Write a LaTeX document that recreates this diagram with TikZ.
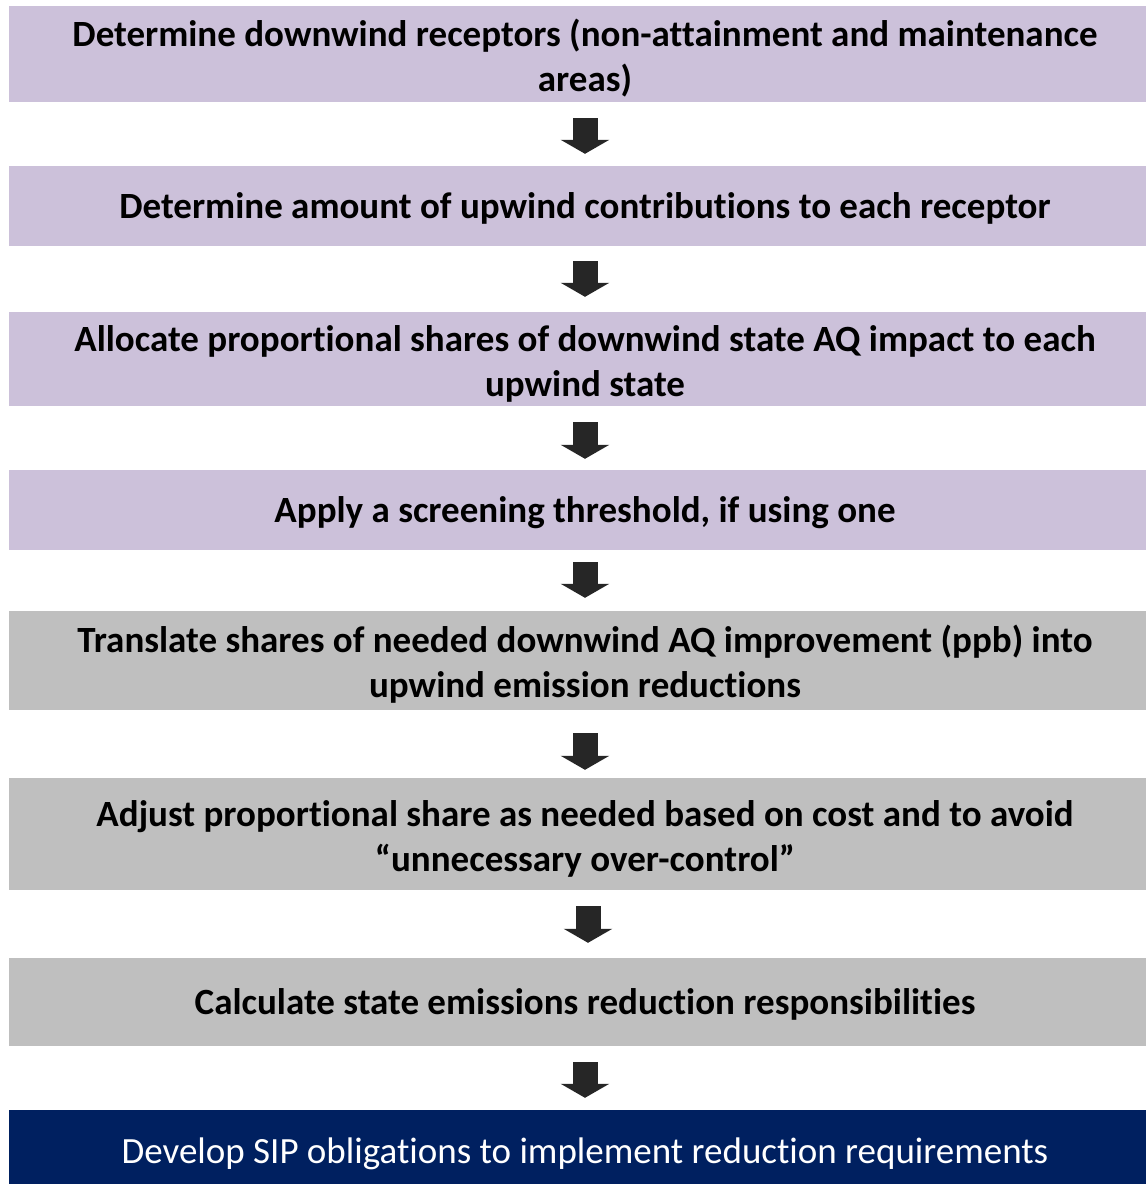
\documentclass[tikz,border=0pt]{standalone}
\usepackage{fontspec}
\setmainfont{Carlito}[RawFeature=-liga]
\usetikzlibrary{arrows.meta}
\definecolor{lav}{HTML}{CCC1DA}
\definecolor{gry}{HTML}{BFBFBF}
\definecolor{navyblue}{HTML}{002060}
\definecolor{arrowgray}{HTML}{262626}
\newcommand\firstlinestrut{\rule{0pt}{39pt}}
\begin{document}
\begin{tikzpicture}[x=1pt,y=-1pt,
  stepbox/.style={rectangle, inner sep=0pt, minimum width=1152pt, align=center,
    font=\bfseries\fontsize{37}{45}\selectfont,
    execute at begin node={\rule{0pt}{34pt}},
    execute at end node={\rule[-10pt]{0pt}{0pt}}},
  purplebox/.style={stepbox, fill=lav},
  graybox/.style={stepbox, fill=gry},
  navybox/.style={stepbox, fill=navyblue, text=white, font=\fontsize{37}{45}\selectfont},
  blockarrow/.style={draw=arrowgray, line width=25pt,
    -{Triangle[length=14pt, width=48pt]}}
]
\clip (0,0) rectangle (1146,1184);
\fill[white] (0,0) rectangle (1146,1184);

\node[purplebox, minimum height=96pt] (b1) at (585,54)
  {\firstlinestrut Determine downwind receptors (non-attainment and maintenance\\ areas)};
\node[purplebox, minimum height=80pt] (b2) at (585,206)
  {Determine amount of upwind contributions to each receptor};
\node[purplebox, minimum height=94pt] (b3) at (585,359)
  {\firstlinestrut Allocate proportional shares of downwind state AQ impact to each\\ upwind state};
\node[purplebox, minimum height=80pt] (b4) at (585,510)
  {Apply a screening threshold, if using one};
\node[graybox, minimum height=99pt] (b5) at (585,660.5)
  {\firstlinestrut Translate shares of needed downwind AQ improvement (ppb) into\\ upwind emission reductions};
\node[graybox, minimum height=112pt] (b6) at (585,834)
  {\firstlinestrut Adjust proportional share as needed based on cost and to avoid\\ “unnecessary over-control”};
\node[graybox, minimum height=88pt] (b7) at (585,1002)
  {Calculate state emissions reduction responsibilities};
\node[navybox, minimum height=82pt] (b8) at (585,1151)
  {Develop SIP obligations to implement reduction requirements};

\draw[blockarrow, shorten <=16pt, shorten >=12pt] (b1.south) -- (b2.north);
\draw[blockarrow, shorten <=15pt, shorten >=15pt] (b2.south) -- (b3.north);
\draw[blockarrow, shorten <=16pt, shorten >=11pt] (b3.south) -- (b4.north);
\draw[blockarrow, shorten <=12pt, shorten >=13pt] (b4.south) -- (b5.north);
\draw[blockarrow, shorten <=23pt, shorten >=8pt] (b5.south) -- (b6.north);
\draw[blockarrow, shorten <=16pt, shorten >=15pt] ([xshift=3pt]b6.south) -- ([xshift=3pt]b7.north);
\draw[blockarrow, shorten <=16pt, shorten >=12pt] (b7.south) -- (b8.north);
\end{tikzpicture}
\end{document}
